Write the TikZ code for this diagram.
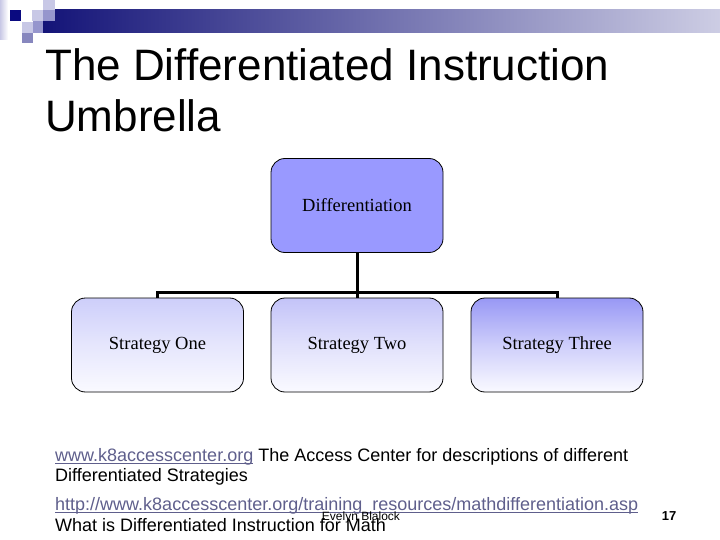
\documentclass[tikz,border=0pt]{standalone}
\usepackage{fontspec}
\setmainfont{Liberation Sans}
\newfontfamily\serifbox{Liberation Serif}
\newcommand{\mylink}[1]{\textcolor{link}{\setbox0\hbox{#1}\rlap{\rule[-2.5pt]{\wd0}{1pt}}\box0}}
\definecolor{navy}{RGB}{10,10,128}
\definecolor{barl}{RGB}{20,20,120}
\definecolor{barr}{RGB}{205,205,228}
\definecolor{sqa}{RGB}{200,200,230}
\definecolor{sqb}{RGB}{150,150,205}
\definecolor{sqc}{RGB}{135,135,190}
\definecolor{diffc}{RGB}{153,153,255}
\definecolor{sonetop}{RGB}{205,206,250}
\definecolor{stwotop}{RGB}{195,195,248}
\definecolor{sthreetop}{RGB}{152,152,245}
\definecolor{boxbot}{RGB}{250,250,255}
\definecolor{link}{RGB}{95,95,140}
\begin{document}
\begin{tikzpicture}[x=1pt,y=-1pt,
  box/.style={draw=black, line width=0.8pt, rounded corners=14pt,
    minimum width=172pt, minimum height=94pt, inner sep=0pt,
    font=\serifbox\fontsize{18.5}{22}\selectfont},
  grad/.style={top color=#1, bottom color=boxbot, middle color={#1!45!boxbot}},
  conn/.style={line width=3pt},
  txt/.style={anchor=base west, inner sep=0pt, font=\fontsize{18}{20}\selectfont}]
\useasboundingbox (0,0) rectangle (720,540);
% top-left decoration
\shade[left color=sqa, right color=white] (0,0) rectangle (8,40);
\shade[left color=barl, right color=barr] (43,10) rectangle (720,33);
\fill[navy] (10,10) rectangle (21,21);
\fill[sqa] (32,10) rectangle (43,21);
\fill[sqa] (43,0) rectangle (55,10);
\fill[sqb] (43,10) rectangle (55,21);
\fill[sqa] (22,22) rectangle (33,33);
\fill[sqb] (33,21) rectangle (43,33);
\fill[sqc] (22,33) rectangle (33,43);
% title
\node[anchor=base west, inner sep=0pt, font=\fontsize{44}{52}\selectfont] (t1) at (45,81) {The Differentiated Instruction};
\node[anchor=base west, inner sep=0pt, font=\fontsize{44}{52}\selectfont] (t2) at (45,132) {Umbrella};
% boxes
\node[box, fill=diffc] (D) at (357,205.5) {Differentiation};
\node[box, grad=sonetop] (S1) at (157.5,345) {Strategy One};
\node[box, grad=stwotop] (S2) at (357,345) {Strategy Two};
\node[box, grad=sthreetop] (S3) at (557,345) {Strategy Three};
% connectors
\coordinate (j) at (357,292);
\draw[conn] (D.south) -- (j);
\draw[conn] (S1.north) -- (S1.north |- j) -- (S3.north |- j) -- (S3.north);
\draw[conn] (S2.north) -- (j);
% footer text
\node[txt] (f1) at (55,461) {\mylink{www.k8accesscenter.org} The Access Center for descriptions of different};
\node[txt] (f2) at (55,481) {Differentiated Strategies};
\node[txt] (f3) at (55,510) {\mylink{http://www.k8accesscenter.org/training\_resources/mathdifferentiation.asp}};
\node[txt] (f4) at (55,531) {What is Differentiated Instruction for Math};
\node[anchor=base, inner sep=0pt, font=\fontsize{12}{14}\selectfont] (ev) at (361,520) {Evelyn Blalock};
\node[anchor=base, inner sep=0pt, font=\bfseries\fontsize{13}{14}\selectfont] (pg) at (669,520) {17};
\end{tikzpicture}
\end{document}
